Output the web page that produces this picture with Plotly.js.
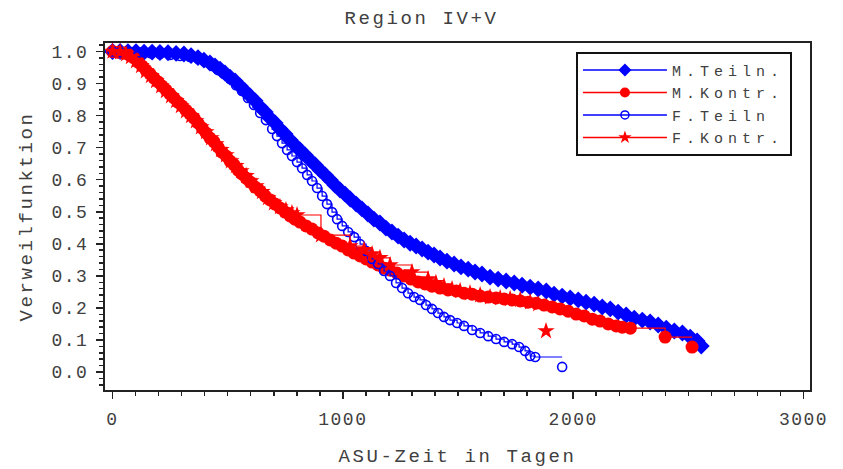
<!DOCTYPE html>
<html>
<head>
<meta charset="utf-8">
<script src="https://cdn.plot.ly/plotly-3.0.1.min.js"></script>
<style>
html,body{margin:0;padding:0;background:#fff;}
#chart{width:843px;height:469px;}
.gtitle{letter-spacing:2.6px;}
.xtitle,.ytitle{letter-spacing:2.6px;}
.xtick text,.ytick text{letter-spacing:1.5px;}
.legendtext{letter-spacing:5px;}
</style>
</head>
<body>
<div id="chart"></div>
<script>
// ---- data ----
const seriesNames = ['M.Teiln.', 'M.Kontr.', 'F.Teiln', 'F.Kontr.'];

const mTeilnDays = [0,33,67,102,137,172,206,241,276,310,341,371,397,423,445,467,488,510,532,554,575,597,619,641,663,684,706,727,749,771,792,814,836,858,880,901,923,945,966,988,1010,1032,1058,1083,1109,1135,1161,1187,1213,1240,1266,1292,1318,1344,1370,1396,1422,1452,1483,1513,1544,1574,1604,1639,1674,1709,1744,1778,1813,1848,1883,1917,1952,1987,2022,2056,2091,2126,2161,2195,2230,2265,2300,2334,2369,2404,2439,2474,2508,2538,2556];
const mTeilnSurv = [1.0,1.0,0.999,0.999,0.998,0.998,0.997,0.996,0.994,0.992,0.987,0.981,0.973,0.964,0.955,0.945,0.933,0.920,0.908,0.892,0.877,0.861,0.846,0.827,0.811,0.792,0.777,0.758,0.743,0.724,0.708,0.693,0.677,0.661,0.646,0.630,0.615,0.599,0.583,0.568,0.555,0.540,0.524,0.509,0.493,0.477,0.465,0.449,0.437,0.424,0.412,0.402,0.393,0.384,0.374,0.365,0.356,0.346,0.337,0.328,0.321,0.312,0.306,0.296,0.290,0.284,0.278,0.271,0.265,0.259,0.253,0.243,0.237,0.231,0.225,0.218,0.212,0.203,0.197,0.187,0.178,0.168,0.162,0.156,0.147,0.137,0.128,0.122,0.109,0.097,0.081];

const mKontrDays = [0,24,50,72,93,111,128,145,163,180,198,215,232,250,267,284,302,319,336,354,371,389,406,423,441,458,475,493,510,528,545,562,580,597,619,641,663,684,706,727,749,771,792,814,840,866,892,918,945,971,997,1023,1049,1075,1101,1127,1153,1179,1205,1235,1266,1296,1327,1357,1387,1422,1457,1492,1526,1561,1596,1631,1665,1700,1735,1770,1804,1839,1874,1909,1943,1978,2013,2048,2083,2117,2152,2187,2213,2248,2399,2516];
const mKontrSurv = [1.0,0.998,0.995,0.989,0.980,0.967,0.955,0.942,0.930,0.917,0.905,0.892,0.880,0.867,0.855,0.842,0.830,0.817,0.805,0.792,0.777,0.761,0.746,0.730,0.718,0.702,0.686,0.674,0.658,0.646,0.630,0.618,0.605,0.593,0.577,0.565,0.549,0.537,0.524,0.512,0.499,0.487,0.477,0.468,0.456,0.446,0.434,0.424,0.412,0.402,0.393,0.381,0.371,0.362,0.353,0.343,0.334,0.324,0.318,0.309,0.300,0.290,0.281,0.275,0.268,0.262,0.256,0.253,0.246,0.243,0.237,0.234,0.231,0.228,0.225,0.222,0.218,0.215,0.209,0.203,0.197,0.190,0.181,0.175,0.165,0.159,0.150,0.144,0.140,0.137,0.109,0.078];

const fTeilnDays = [0,33,76,119,163,206,250,293,336,371,402,432,458,484,510,536,562,588,614,641,666,693,714,736,758,779,801,823,845,866,888,910,931,953,975,997,1023,1049,1075,1101,1127,1153,1179,1205,1231,1257,1283,1309,1335,1361,1387,1413,1439,1465,1496,1526,1561,1596,1631,1665,1700,1735,1765,1791,1813,1835,1952];
const fTeilnSurv = [1.0,0.998,0.998,0.997,0.995,0.992,0.989,0.986,0.983,0.977,0.967,0.955,0.942,0.930,0.914,0.895,0.877,0.855,0.833,0.808,0.786,0.758,0.736,0.714,0.693,0.674,0.655,0.636,0.615,0.596,0.574,0.549,0.524,0.499,0.477,0.456,0.437,0.421,0.399,0.378,0.353,0.337,0.315,0.300,0.278,0.262,0.246,0.234,0.225,0.209,0.197,0.184,0.172,0.162,0.153,0.144,0.131,0.122,0.112,0.103,0.094,0.087,0.078,0.066,0.050,0.047,0.016];

const fKontrDays = [0,33,59,80,102,124,145,167,189,211,232,254,276,297,319,341,362,384,406,428,449,471,493,514,536,558,580,601,623,649,675,701,727,753,779,801,905,1031,1092,1127,1161,1205,1300,1370,1404,1439,1474,1509,1552,1596,1639,1683,1726,1770,1813,1848,1882];
const fKontrSurv = [1.0,0.998,0.992,0.983,0.970,0.955,0.939,0.924,0.908,0.892,0.877,0.861,0.846,0.830,0.814,0.799,0.783,0.764,0.749,0.730,0.711,0.693,0.677,0.658,0.643,0.627,0.612,0.596,0.580,0.562,0.543,0.527,0.515,0.505,0.496,0.490,0.427,0.393,0.381,0.368,0.356,0.334,0.312,0.290,0.278,0.268,0.259,0.253,0.246,0.240,0.234,0.231,0.228,0.225,0.218,0.212,0.128];

const xTickVals = [0, 1000, 2000, 3000];
const xTickText = ['0', '1000', '2000', '3000'];
const yTickVals = [0, 0.1, 0.2, 0.3, 0.4, 0.5, 0.6, 0.7, 0.8, 0.9, 1.0];
const yTickText = ['0.0', '0.1', '0.2', '0.3', '0.4', '0.5', '0.6', '0.7', '0.8', '0.9', '1.0'];

// ---- styling ----
const BLUE = '#0000ff', RED = '#ff0000';
const styles = [
  {color: BLUE, symbol: 'diamond', size: 13, open: false},
  {color: RED, symbol: 'circle', size: 13, open: false},
  {color: BLUE, symbol: 'circle-open', size: 9, open: true},
  {color: RED, symbol: 'star', size: 13, open: false}
];
const dataSets = [
  [mTeilnDays, mTeilnSurv],
  [mKontrDays, mKontrSurv],
  [fTeilnDays, fTeilnSurv],
  [fKontrDays, fKontrSurv]
];

const traces = [];
const legendTraces = [];
dataSets.forEach(function (ds, i) {
  const days = ds[0], surv = ds[1], st = styles[i];
  const n = surv.length;
  // step line runs at the previous level up to the last time (final drop not joined)
  const lineY = surv.slice(0, n - 1).concat([surv[n - 2]]);
  const mk = {symbol: st.symbol, size: st.size, color: st.color,
              line: {color: st.color, width: st.open ? 1.6 : 0}};
  traces.push({x: days, y: lineY, mode: 'lines', type: 'scatter',
               line: {shape: 'hv', color: st.color, width: 1.2},
               showlegend: false, hoverinfo: 'skip', legendgroup: 'g' + i});
  traces.push({x: days, y: surv, mode: 'markers', type: 'scatter', marker: mk,
               showlegend: false, name: seriesNames[i], legendgroup: 'g' + i});
  legendTraces.push({x: [null], y: [null], mode: 'lines+markers', type: 'scatter',
                     name: seriesNames[i], legendgroup: 'g' + i,
                     line: {color: st.color, width: 1.5},
                     marker: {symbol: st.symbol, size: st.open ? 8 : 10, color: st.color,
                              line: {color: st.color, width: st.open ? 1.5 : 0}}});
});

const FONT = 'Liberation Mono, Courier New, monospace';
const TXT = '#404040';
const axisCol = '#222';
const layout = {
  width: 843, height: 469,
  margin: {l: 105, r: 33, t: 43, b: 79},
  paper_bgcolor: '#fff', plot_bgcolor: '#fff',
  font: {family: FONT, size: 18, color: TXT},
  showlegend: true,
  title: {text: 'Region IV+V', x: 0.5, xref: 'container', xanchor: 'center',
          y: 1 - 17 / 469, yref: 'container', yanchor: 'middle',
          font: {family: FONT, size: 19, color: TXT}},
  xaxis: {
    range: [-32.6, 3028], tickmode: 'array', tickvals: xTickVals, ticktext: xTickText,
    ticks: 'outside', ticklen: 7, tickwidth: 1.5, tickcolor: axisCol,
    ticklabelstandoff: 4,
    showline: true, linecolor: axisCol, linewidth: 2, mirror: true,
    showgrid: false, zeroline: false,
    minor: {dtick: 100, tick0: 0, ticks: 'outside', ticklen: 4, tickwidth: 1.5, tickcolor: axisCol, showgrid: false},
    tickfont: {family: FONT, size: 18, color: TXT},
    title: {text: 'ASU-Zeit in Tagen', standoff: 20, font: {family: FONT, size: 19, color: TXT}}
  },
  yaxis: {
    range: [-0.056, 1.0265], tickmode: 'array', tickvals: yTickVals, ticktext: yTickText,
    ticks: 'outside', ticklen: 7, tickwidth: 1.5, tickcolor: axisCol,
    ticklabelstandoff: 4,
    showline: true, linecolor: axisCol, linewidth: 2, mirror: true,
    showgrid: false, zeroline: false,
    minor: {dtick: 0.02, tick0: 0, ticks: 'outside', ticklen: 4, tickwidth: 1.5, tickcolor: axisCol, showgrid: false},
    tickfont: {family: FONT, size: 18, color: TXT},
    title: {text: 'Verweilfunktion', standoff: 14, font: {family: FONT, size: 19, color: TXT}}
  },
  legend: {
    x: 0.668, y: 0.975, xanchor: 'left', yanchor: 'top',
    bgcolor: '#fff', bordercolor: '#111', borderwidth: 2,
    font: {family: FONT, size: 15, color: TXT},
    itemwidth: 84, tracegroupgap: 0, traceorder: 'normal'
  }
};

Plotly.newPlot('chart', traces.concat(legendTraces), layout, {staticPlot: true, displayModeBar: false});
</script>
</body>
</html>
